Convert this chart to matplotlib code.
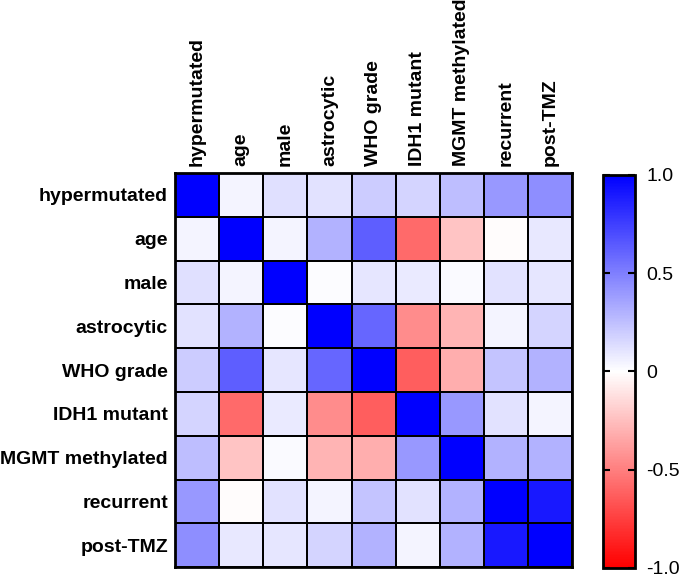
import numpy as np
import matplotlib
matplotlib.use("Agg")
import matplotlib.pyplot as plt
from matplotlib.colors import LinearSegmentedColormap

plt.rcParams["font.family"] = ["Liberation Sans", "DejaVu Sans"]

labels = ["hypermutated", "age", "male", "astrocytic", "WHO grade",
          "IDH1 mutant", "MGMT methylated", "recurrent", "post-TMZ"]

# correlation rows (symmetric)
r_hyper = [1.00, 0.04, 0.12, 0.11, 0.20, 0.17, 0.25, 0.40, 0.44]
r_age = [0.04, 1.00, 0.04, 0.30, 0.63, -0.58, -0.23, -0.01, 0.09]
r_male = [0.12, 0.04, 1.00, 0.01, 0.10, 0.08, 0.02, 0.11, 0.10]
r_astro = [0.11, 0.30, 0.01, 1.00, 0.60, -0.45, -0.29, 0.04, 0.17]
r_who = [0.20, 0.63, 0.10, 0.60, 1.00, -0.63, -0.32, 0.23, 0.30]
r_idh = [0.17, -0.58, 0.08, -0.45, -0.63, 1.00, 0.40, 0.11, 0.04]
r_mgmt = [0.25, -0.23, 0.02, -0.29, -0.32, 0.40, 1.00, 0.30, 0.30]
r_recur = [0.40, -0.01, 0.11, 0.04, 0.23, 0.11, 0.30, 1.00, 0.90]
r_tmz = [0.44, 0.09, 0.10, 0.17, 0.30, 0.04, 0.30, 0.90, 1.00]

corr = np.array([r_hyper, r_age, r_male, r_astro, r_who,
                 r_idh, r_mgmt, r_recur, r_tmz])

cmap = LinearSegmentedColormap.from_list("rwb", ["#FF0000", "#FFFFFF", "#0000FF"])

fig = plt.figure(figsize=(6.85, 5.77), dpi=100)
ax = fig.add_axes([0.2555, 0.017, 0.58, 0.683])
cax = fig.add_axes([0.880, 0.016, 0.047, 0.681])

n = len(labels)
mesh = ax.pcolormesh(corr, cmap=cmap, vmin=-1, vmax=1,
                     edgecolors="black", linewidth=1.3)
ax.set_xlim(0, n)
ax.set_ylim(n, 0)
ax.set_xticks(np.arange(n) + 0.5)
ax.set_yticks(np.arange(n) + 0.5)
ax.set_xticklabels(labels, rotation=90, fontsize=14, fontweight="bold")
ax.set_yticklabels(labels, fontsize=14, fontweight="bold")
ax.xaxis.tick_top()
ax.tick_params(length=0, pad=5)
for s in ax.spines.values():
    s.set_linewidth(2)

cb = fig.colorbar(mesh, cax=cax, ticks=[-1, -0.5, 0, 0.5, 1])
cb.ax.set_yticklabels(["-1.0", "-0.5", "0", "0.5", "1.0"], fontsize=14)
cb.outline.set_linewidth(2)
cb.ax.tick_params(direction="in", length=5, width=1.5, left=True, right=True, pad=8)

fig.savefig("out.png", dpi=100)
